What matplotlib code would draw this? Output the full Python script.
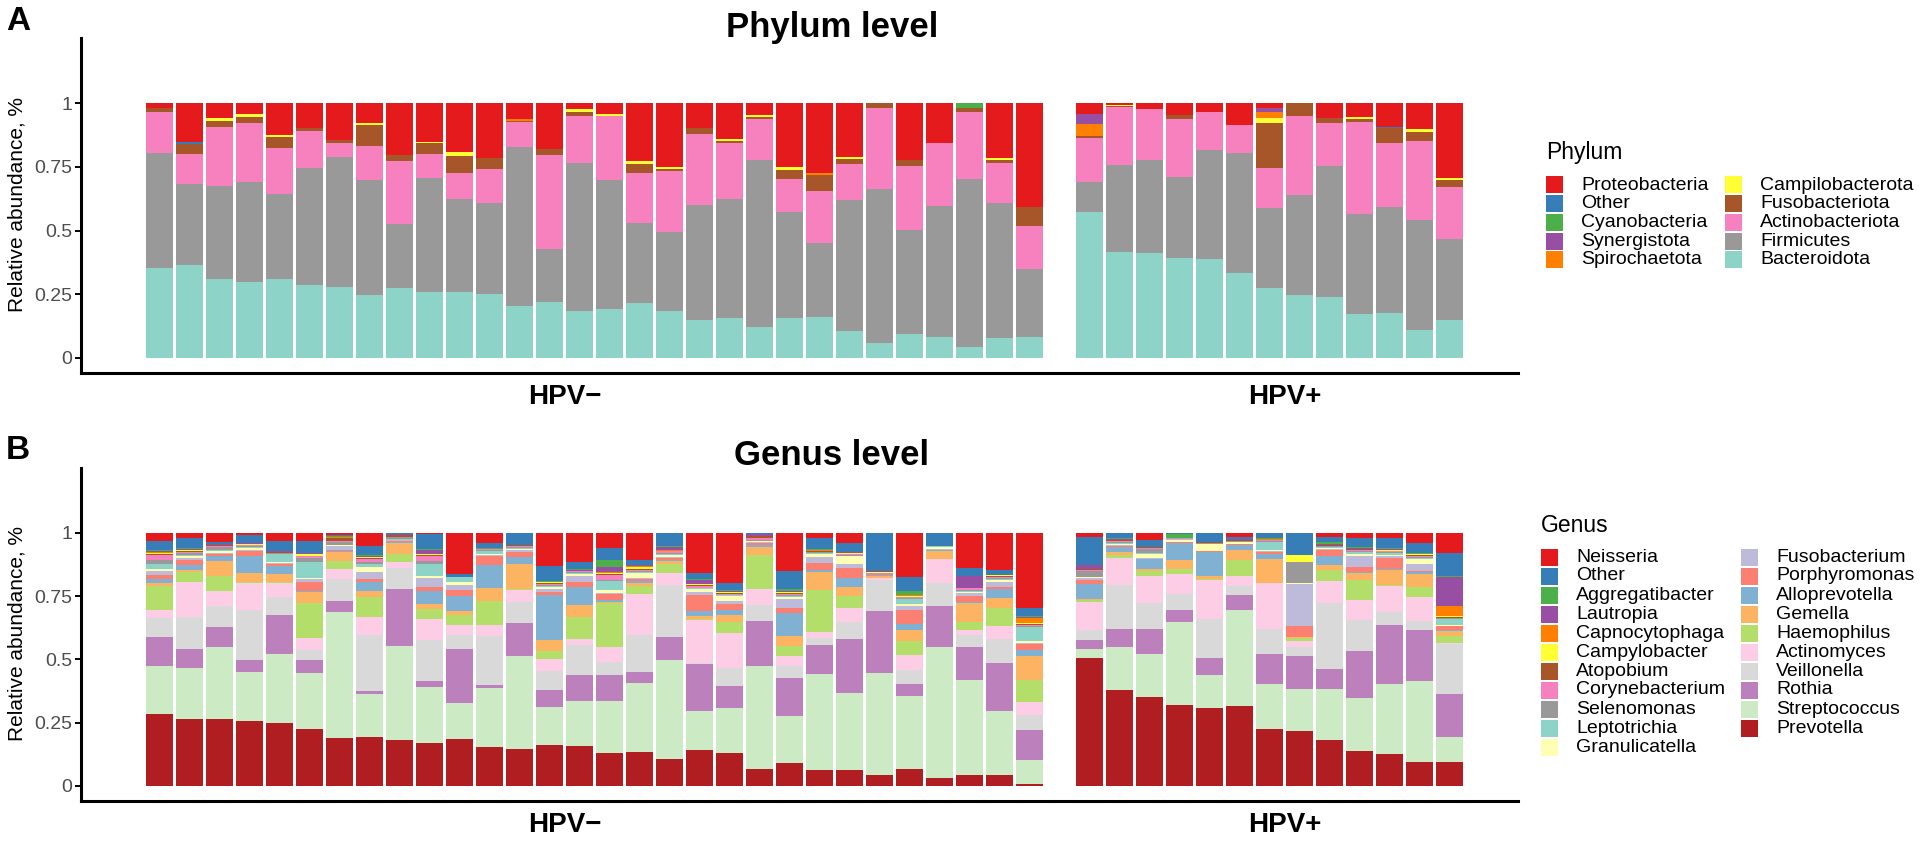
import numpy as np
import matplotlib
matplotlib.use("Agg")
import matplotlib.pyplot as plt
from matplotlib.patches import Rectangle

plt.rcParams['font.family'] = ['Liberation Sans', 'DejaVu Sans']

W, H = 1920, 846

# 30 HPV- samples followed by 13 HPV+ samples
n_neg, n_pos = 30, 13
group_labels = ['HPV\u2212', 'HPV+']

# ---------------- phylum level (bottom -> top of stack) ----------------
phylum_names = ['Bacteroidota', 'Firmicutes', 'Actinobacteriota', 'Fusobacteriota',
                'Campilobacterota', 'Spirochaetota', 'Synergistota', 'Cyanobacteria',
                'Other', 'Proteobacteria']
phylum_colors = ['#8DD3C7', '#999999', '#F781BF', '#A65628', '#FFFF33',
                 '#FF7F00', '#984EA3', '#4DAF4A', '#377EB8', '#E41A1C']

bacteroidota = [0.351, 0.364, 0.309, 0.299, 0.309, 0.286, 0.279, 0.245, 0.273, 0.257,
                0.257, 0.249, 0.202, 0.220, 0.185, 0.190, 0.214, 0.185, 0.148, 0.155,
                0.119, 0.155, 0.160, 0.106, 0.059, 0.094, 0.083, 0.042, 0.076, 0.083,
                0.574, 0.417, 0.412, 0.394, 0.388, 0.334, 0.274, 0.245, 0.239, 0.173,
                0.177, 0.111, 0.148]
firmicutes = [0.455, 0.318, 0.365, 0.393, 0.336, 0.460, 0.509, 0.452, 0.253, 0.448,
              0.368, 0.359, 0.628, 0.209, 0.579, 0.509, 0.317, 0.308, 0.454, 0.471,
              0.658, 0.418, 0.292, 0.514, 0.604, 0.408, 0.515, 0.663, 0.532, 0.266,
              0.118, 0.342, 0.365, 0.316, 0.430, 0.471, 0.316, 0.393, 0.515, 0.393,
              0.414, 0.430, 0.317]
actinobacteriota = [0.161, 0.118, 0.234, 0.229, 0.181, 0.146, 0.057, 0.134, 0.247, 0.096,
                    0.100, 0.133, 0.097, 0.367, 0.186, 0.251, 0.194, 0.241, 0.276, 0.217,
                    0.161, 0.128, 0.205, 0.141, 0.319, 0.252, 0.247, 0.264, 0.159, 0.170,
                    0.170, 0.225, 0.199, 0.228, 0.147, 0.111, 0.157, 0.312, 0.170, 0.362,
                    0.252, 0.312, 0.205]
fusobacteriota = [0.013, 0.039, 0.024, 0.026, 0.040, 0.012, 0.010, 0.083, 0.024, 0.042,
                  0.069, 0.043, 0.005, 0.024, 0.016, 0.000, 0.037, 0.009, 0.026, 0.008,
                  0.008, 0.037, 0.060, 0.020, 0.018, 0.024, 0.000, 0.012, 0.010, 0.072,
                  0.010, 0.005, 0.000, 0.016, 0.000, 0.000, 0.174, 0.050, 0.017, 0.010,
                  0.059, 0.035, 0.029]
campilobacterota = [0.000, 0.000, 0.009, 0.010, 0.009, 0.000, 0.000, 0.010, 0.000, 0.007,
                    0.016, 0.000, 0.000, 0.000, 0.010, 0.007, 0.013, 0.008, 0.000, 0.008,
                    0.008, 0.010, 0.000, 0.009, 0.000, 0.000, 0.000, 0.000, 0.007, 0.000,
                    0.000, 0.006, 0.000, 0.000, 0.000, 0.000, 0.020, 0.000, 0.000, 0.007,
                    0.000, 0.012, 0.007]
spirochaetota = [0.000, 0.000, 0.000, 0.000, 0.000, 0.000, 0.000, 0.000, 0.000, 0.000,
                 0.000, 0.000, 0.005, 0.000, 0.000, 0.000, 0.000, 0.000, 0.000, 0.000,
                 0.000, 0.000, 0.008, 0.000, 0.000, 0.000, 0.000, 0.000, 0.000, 0.000,
                 0.048, 0.000, 0.000, 0.000, 0.000, 0.000, 0.026, 0.000, 0.000, 0.000,
                 0.000, 0.000, 0.000]
synergistota = [0.000, 0.000, 0.000, 0.000, 0.000, 0.000, 0.000, 0.000, 0.000, 0.000,
                0.000, 0.000, 0.000, 0.000, 0.000, 0.000, 0.000, 0.000, 0.000, 0.000,
                0.000, 0.000, 0.000, 0.000, 0.000, 0.000, 0.000, 0.000, 0.000, 0.000,
                0.039, 0.000, 0.000, 0.000, 0.000, 0.000, 0.013, 0.000, 0.000, 0.000,
                0.000, 0.000, 0.000]
cyanobacteria = [0.000, 0.000, 0.000, 0.000, 0.000, 0.000, 0.000, 0.000, 0.000, 0.000,
                 0.000, 0.000, 0.000, 0.000, 0.000, 0.000, 0.000, 0.000, 0.000, 0.000,
                 0.000, 0.000, 0.000, 0.000, 0.000, 0.000, 0.000, 0.020, 0.000, 0.000,
                 0.000, 0.000, 0.000, 0.000, 0.000, 0.000, 0.000, 0.000, 0.000, 0.000,
                 0.000, 0.000, 0.000]
other_phylum = [0.000, 0.010, 0.000, 0.000, 0.000, 0.000, 0.000, 0.000, 0.000, 0.000,
                0.000, 0.000, 0.000, 0.000, 0.000, 0.000, 0.000, 0.000, 0.000, 0.000,
                0.000, 0.000, 0.000, 0.000, 0.000, 0.000, 0.000, 0.000, 0.000, 0.000,
                0.000, 0.000, 0.000, 0.000, 0.000, 0.000, 0.000, 0.000, 0.000, 0.000,
                0.007, 0.000, 0.000]
proteobacteria = [0.020, 0.151, 0.059, 0.043, 0.125, 0.096, 0.145, 0.076, 0.203, 0.150,
                  0.190, 0.216, 0.063, 0.180, 0.024, 0.043, 0.225, 0.249, 0.096, 0.141,
                  0.046, 0.252, 0.275, 0.210, 0.000, 0.222, 0.155, 0.000, 0.216, 0.409,
                  0.041, 0.005, 0.024, 0.046, 0.035, 0.084, 0.020, 0.000, 0.059, 0.055,
                  0.091, 0.100, 0.294]

phylum_values = [bacteroidota, firmicutes, actinobacteriota, fusobacteriota,
                 campilobacterota, spirochaetota, synergistota, cyanobacteria,
                 other_phylum, proteobacteria]

# ---------------- genus level (bottom -> top of stack) ----------------
genus_names = ['Prevotella', 'Streptococcus', 'Rothia', 'Veillonella', 'Actinomyces',
               'Haemophilus', 'Gemella', 'Alloprevotella', 'Porphyromonas', 'Fusobacterium',
               'Granulicatella', 'Leptotrichia', 'Selenomonas', 'Corynebacterium',
               'Atopobium', 'Campylobacter', 'Capnocytophaga', 'Lautropia',
               'Aggregatibacter', 'Other', 'Neisseria']
genus_colors = ['#B11E22', '#CCEBC5', '#BC80BD', '#D9D9D9', '#FCCDE5',
                '#B3DE69', '#FDB462', '#80B1D3', '#FB8072', '#BEBADA',
                '#FFFFB3', '#8DD3C7', '#999999', '#F781BF',
                '#A65628', '#FFFF33', '#FF7F00', '#984EA3',
                '#4DAF4A', '#377EB8', '#E41A1C']

prevotella = [.283, .266, .266, .259, .254, .224, .193, .193, .182, .168,
              .187, .157, .145, .162, .157, .128, .132, .109, .141, .132,
              .068, .092, .062, .062, .042, .068, .030, .042, .042, .007,
              .507, .386, .355, .320, .313, .320, .224, .217, .182, .138,
              .128, .092, .096]
streptococcus = [.191, .199, .285, .199, .276, .224, .504, .168, .371, .224,
                 .145, .234, .368, .151, .179, .204, .272, .395, .159, .182,
                 .409, .184, .388, .311, .403, .287, .522, .379, .254, .096,
                 .037, .170, .175, .332, .134, .387, .180, .167, .203, .208,
                 .276, .318, .101]
rothia = [.116, .078, .079, .049, .157, .053, .043, .013, .224, .022,
          .217, .013, .132, .066, .104, .103, .047, .092, .187, .086,
          .180, .151, .116, .217, .246, .049, .162, .128, .191, .121,
          .036, .076, .101, .049, .066, .059, .120, .129, .080, .183,
          .234, .197, .171]
veillonella = [.075, .126, .083, .201, .074, .039, .086, .217, .086, .162,
               .057, .197, .082, .075, .120, .050, .145, .207, .004, .072,
               .062, .046, .030, .066, .125, .054, .091, .050, .095, .059,
               .037, .174, .101, .061, .158, .037, .097, .039, .262, .122,
               .053, .037, .200]
actinomyces = [.033, .137, .062, .108, .055, .046, .042, .072, .022, .084,
               .039, .043, .050, .049, .026, .059, .161, .050, .171, .141,
               .063, .039, .022, .059, .005, .062, .092, .020, .050, .049,
               .114, .109, .109, .082, .158, .039, .182, .020, .087, .079,
               .105, .092, .004]
haemophilus = [.092, .039, .059, .003, .003, .138, .029, .079, .030, .037,
               .039, .095, .002, .030, .086, .176, .033, .033, .004, .046,
               .138, .039, .171, .046, .002, .053, .003, .029, .072, .089,
               .007, .013, .020, .020, .003, .066, .003, .013, .042, .079,
               .004, .039, .030]
gemella = [.013, .010, .059, .039, .033, .046, .037, .022, .046, .020,
           .016, .054, .099, .046, .046, .004, .010, .013, .013, .026,
           .033, .039, .072, .036, .007, .046, .030, .076, .039, .096,
           .004, .010, .010, .036, .010, .039, .095, .004, .020, .030,
           .059, .053, .020]
alloprevotella = [.016, .020, .020, .066, .033, .004, .004, .037, .003, .053,
                  .061, .091, .026, .178, .072, .008, .010, .004, .020, .020,
                  .006, .092, .009, .039, .003, .022, .003, .003, .036, .022,
                  .059, .022, .038, .066, .097, .020, .017, .002, .036, .004,
                  .004, .006, .004]
porphyromonas = [.017, .017, .008, .020, .007, .033, .006, .009, .003, .013,
                 .022, .037, .020, .013, .020, .021, .005, .008, .062, .026,
                 .008, .020, .026, .039, .007, .054, .003, .026, .010, .026,
                 .016, .004, .003, .003, .004, .003, .009, .043, .024, .020,
                 .042, .006, .013]
fusobacterium = [.013, .009, .006, .006, .006, .013, .013, .030, .004, .036,
                 .020, .005, .008, .010, .026, .006, .006, .004, .013, .010,
                 .006, .037, .024, .017, .003, .016, .002, .013, .020, .004,
                 .007, .004, .003, .003, .003, .003, .004, .167, .004, .040,
                 .008, .026, .003]
granulicatella = [.009, .007, .006, .006, .004, .006, .004, .020, .002, .008,
                  .013, .004, .005, .008, .007, .010, .020, .010, .010, .020,
                  .002, .006, .013, .029, .002, .010, .009, .004, .007, .009,
                  .004, .004, .017, .006, .026, .005, .004, .002, .004, .008,
                  .006, .020, .003]
leptotrichia = [.020, .005, .004, .004, .029, .063, .003, .010, .002, .049,
                .020, .010, .004, .005, .004, .036, .004, .004, .004, .004,
                .002, .004, .004, .003, .000, .020, .002, .004, .004, .055,
                .003, .003, .002, .003, .002, .002, .033, .002, .003, .008,
                .006, .004, .024]
selenomonas = [.017, .008, .012, .004, .004, .016, .010, .008, .008, .013,
               .000, .004, .006, .004, .004, .005, .004, .004, .003, .003,
               .004, .004, .003, .003, .002, .003, .000, .004, .004, .004,
               .024, .006, .017, .002, .002, .003, .003, .082, .003, .004,
               .004, .004, .003]
corynebacterium = [.020, .004, .003, .003, .002, .005, .006, .012, .003, .017,
                   .000, .003, .004, .004, .003, .020, .004, .005, .007, .003,
                   .008, .003, .003, .003, .000, .003, .000, .004, .004, .004,
                   .002, .002, .002, .002, .002, .002, .003, .000, .003, .004,
                   .004, .004, .003]
atopobium = [.004, .004, .004, .002, .002, .003, .010, .004, .006, .004,
             .000, .002, .002, .002, .002, .004, .004, .003, .003, .003,
             .006, .006, .003, .002, .002, .002, .000, .003, .003, .005,
             .002, .006, .004, .002, .002, .002, .003, .000, .003, .003,
             .003, .003, .003]
campylobacter = [.003, .002, .000, .002, .000, .005, .000, .002, .000, .005,
                 .000, .000, .000, .003, .000, .004, .006, .000, .003, .004,
                 .000, .003, .000, .002, .000, .005, .000, .000, .003, .004,
                 .000, .000, .000, .000, .000, .000, .000, .026, .000, .003,
                 .003, .003, .003]
capnocytophaga = [.005, .003, .000, .000, .000, .002, .003, .003, .000, .002,
                  .000, .000, .000, .000, .000, .004, .003, .003, .002, .002,
                  .000, .002, .002, .002, .000, .002, .000, .000, .000, .020,
                  .003, .000, .000, .000, .000, .000, .002, .000, .000, .000,
                  .000, .000, .040]
lautropia = [.003, .004, .005, .006, .006, .002, .002, .003, .004, .013,
             .000, .000, .002, .002, .002, .020, .004, .013, .016, .003,
             .008, .003, .002, .002, .000, .002, .000, .046, .003, .004,
             .016, .003, .003, .000, .000, .003, .000, .000, .003, .003,
             .004, .003, .118]
aggregatibacter = [.003, .004, .000, .000, .000, .002, .002, .004, .000, .004,
                   .000, .005, .000, .004, .003, .024, .003, .003, .003, .003,
                   .000, .006, .002, .002, .000, .013, .000, .000, .000, .004,
                   .000, .004, .000, .013, .000, .000, .004, .000, .008, .004,
                   .003, .003, .004]
other_genus = [.035, .038, .008, .030, .039, .046, .004, .033, .002, .059,
               .013, .017, .046, .060, .029, .049, .020, .050, .026, .030,
               .002, .072, .046, .033, .151, .057, .053, .033, .020, .029,
               .110, .020, .026, .006, .037, .010, .020, .089, .020, .035,
               .040, .039, .092]
neisseria = [.033, .020, .036, .010, .033, .033, .010, .053, .002, .005,
             .164, .042, .000, .130, .116, .059, .105, .002, .158, .200,
             .002, .151, .020, .042, .000, .174, .000, .138, .145, .300,
             .016, .000, .029, .000, .000, .016, .000, .000, .016, .020,
             .020, .039, .079]

genus_values = [prevotella, streptococcus, rothia, veillonella, actinomyces,
                haemophilus, gemella, alloprevotella, porphyromonas, fusobacterium,
                granulicatella, leptotrichia, selenomonas, corynebacterium,
                atopobium, campylobacter, capnocytophaga, lautropia,
                aggregatibacter, other_genus, neisseria]


def fx(px):
    return px / W


def fy(py):
    return 1 - py / H


# bar slots: one empty slot separates the two groups
x_pos = np.r_[np.arange(n_neg), np.arange(n_pos) + n_neg + 1]


def draw_panel(ax, values, colors):
    table = np.array(values, dtype=float)
    table = table / table.sum(axis=0)  # relative abundance per sample
    bottom = np.zeros(table.shape[1])
    for row, col in zip(table, colors):
        ax.bar(x_pos, row, width=0.9, bottom=bottom, color=col, linewidth=0)
        bottom += row

    ax.set_xlim(-2.63, 45.28)
    ax.set_ylim(-0.06, 1.257)
    ax.set_yticks([0, 0.25, 0.5, 0.75, 1])
    ax.set_yticklabels(['0', '0.25', '0.5', '0.75', '1'])
    ax.set_xticks([])
    for s in ['top', 'right']:
        ax.spines[s].set_visible(False)
    for s in ['left', 'bottom']:
        ax.spines[s].set_linewidth(2.2)
        ax.spines[s].set_color('black')
    ax.tick_params(axis='y', length=4, width=1.4, labelsize=14,
                   labelcolor='#4D4D4D', pad=2)


def draw_legend(fig, title, names, colors, x0, title_y, row0, pitch, col_dx, nrows):
    fig.text(fx(x0), fy(title_y), title, fontsize=16.5, ha='left', va='center')
    for i, (name, col) in enumerate(zip(names, colors)):
        c, r = divmod(i, nrows)
        kx = x0 + c * col_dx
        ky = row0 + r * pitch
        fig.add_artist(Rectangle((fx(kx), fy(ky + 8.5)), 17 / W, 17 / H,
                                 transform=fig.transFigure, color=col, lw=0))
        fig.text(fx(kx + 35), fy(ky), name, fontsize=14, ha='left', va='center')


fig = plt.figure(figsize=(W / 100, H / 100), dpi=100)

ax_a = fig.add_axes([fx(80.7), fy(373), (1518 - 80.7) / W, (373 - 38) / H])
ax_b = fig.add_axes([fx(80.7), fy(801), (1518 - 80.7) / W, (801 - 468) / H])

draw_panel(ax_a, phylum_values, phylum_colors)
draw_panel(ax_b, genus_values, genus_colors)

# panel letters, titles, axis labels, group labels
for top, letter, title in [(0, 'A', 'Phylum level'), (428, 'B', 'Genus level')]:
    fig.text(fx(6), fy(22 + top), letter, fontsize=24, fontweight='bold',
             ha='left', va='center')
    fig.text(fx(832), fy(27 + top), title, fontsize=25, fontweight='bold',
             ha='center', va='center')
    fig.text(fx(17), fy(205 + top), 'Relative abundance, %', fontsize=15,
             rotation=90, ha='center', va='center')
    fig.text(fx(565), fy(397 + top), group_labels[0], fontsize=20,
             fontweight='bold', ha='center', va='center')
    fig.text(fx(1285), fy(397 + top), group_labels[1], fontsize=20,
             fontweight='bold', ha='center', va='center')

# legends list the stack from top to bottom, column-major
draw_legend(fig, 'Phylum', phylum_names[::-1], phylum_colors[::-1],
            1546, 152, 185, 18.75, 179, 5)
draw_legend(fig, 'Genus', genus_names[::-1], genus_colors[::-1],
            1541, 525, 557, 19, 200, 11)

fig.savefig('out.png', dpi=100)
